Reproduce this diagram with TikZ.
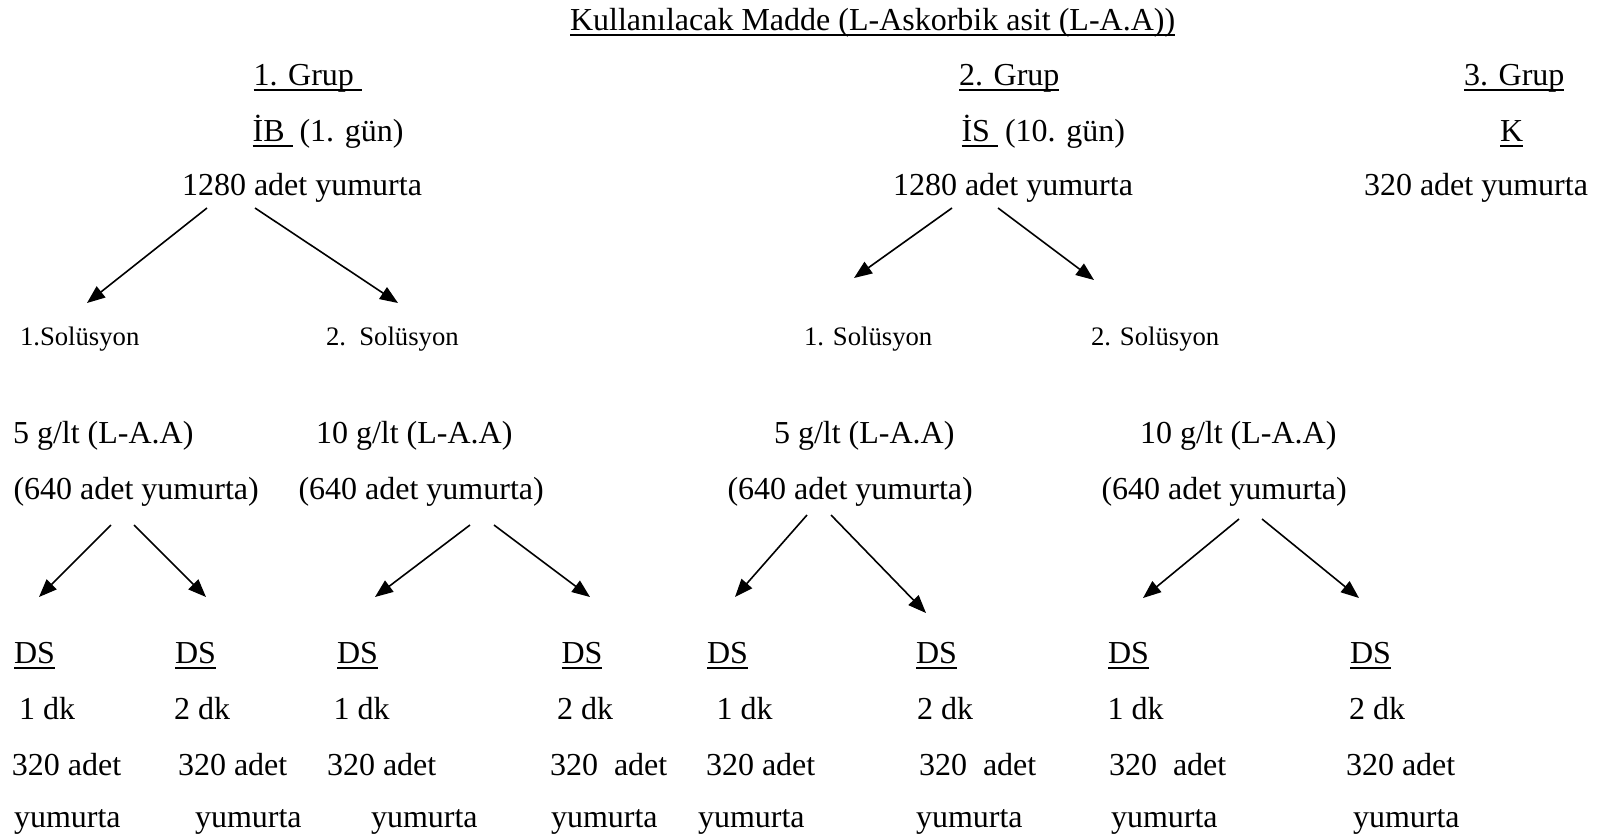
\documentclass[tikz,border=0pt]{standalone}
\usepackage{fontspec}
\setmainfont{Liberation Serif}
\usetikzlibrary{arrows.meta}
\tikzset{
  txt/.style={anchor=base west, inner sep=0pt, outer sep=0pt, font=\fontsize{32}{38}\selectfont},
  small/.style={anchor=base west, inner sep=0pt, outer sep=0pt, font=\fontsize{26.7}{32}\selectfont},
  ulline/.style={line width=1.6pt},
  arr/.style={line width=1.6pt, -{Triangle[length=18pt,width=14pt]}}
}
\begin{document}
\begin{tikzpicture}[x=1pt,y=-1pt]
\useasboundingbox (0,0) rectangle (1597,839);
% title
\node[txt] (title) at (570,30) {Kullanılacak Madde (L-Askorbik asit (L-A.A))};
% group heads
\node[txt] (g1) at (253.5,85) {1. Grup\kern8pt};
\node[txt] (ib) at (252.6,141) {İB\kern8pt};
\node[txt] (ibd) at (299.5,141) {(1. gün)};
\node[txt] (n1) at (182,195) {1280 adet yumurta};
\node[txt] (g2) at (959,85) {2. Grup};
\node[txt] (is) at (961.5,141) {İS\kern8pt};
\node[txt] (isd) at (1005,141) {(10. gün)};
\node[txt] (n2) at (893,195) {1280 adet yumurta};
\node[txt] (g3) at (1464,85) {3. Grup};
\node[txt] (k) at (1500,141) {K};
\node[txt] (n3) at (1364,195) {320 adet yumurta};
% solutions
\node[small] (s1) at (20,345) {1.Solüsyon};
\node[small] (s2) at (326,345) {2.\ \ Solüsyon};
\node[small] (s3) at (804,345) {1. Solüsyon};
\node[small] (s4) at (1091,345) {2. Solüsyon};
% concentrations
\node[txt] (c1) at (13,443) {5 g/lt (L-A.A)};
\node[txt] (c2) at (316,443) {10 g/lt (L-A.A)};
\node[txt] (c3) at (774,443) {5 g/lt (L-A.A)};
\node[txt] (c4) at (1140,443) {10 g/lt (L-A.A)};
\node[txt] (p1) at (13.5,499) {(640 adet yumurta)};
\node[txt] (p2) at (298.5,499) {(640 adet yumurta)};
\node[txt] (p3) at (727.5,499) {(640 adet yumurta)};
\node[txt] (p4) at (1101.5,499) {(640 adet yumurta)};
% DS row
\node[txt] (ds1) at (14,663) {DS};
\node[txt] (ds2) at (175,663) {DS};
\node[txt] (ds3) at (337,663) {DS};
\node[txt] (ds4) at (561.5,663) {DS};
\node[txt] (ds5) at (707,663) {DS};
\node[txt] (ds6) at (916,663) {DS};
\node[txt] (ds7) at (1108,663) {DS};
\node[txt] (ds8) at (1350,663) {DS};
% dk row
\node[txt] (t1) at (19,719) {1 dk};
\node[txt] (t2) at (174,719) {2 dk};
\node[txt] (t3) at (333.5,719) {1 dk};
\node[txt] (t4) at (557,719) {2 dk};
\node[txt] (t5) at (716.5,719) {1 dk};
\node[txt] (t6) at (917,719) {2 dk};
\node[txt] (t7) at (1107.5,719) {1 dk};
\node[txt] (t8) at (1349,719) {2 dk};
% 320 adet row
\node[txt] (a1) at (12,775) {320 adet};
\node[txt] (a2) at (178,775) {320 adet};
\node[txt] (a3) at (327,775) {320 adet};
\node[txt] (a4) at (550,775) {320\ \ adet};
\node[txt] (a5) at (706,775) {320 adet};
\node[txt] (a6) at (919,775) {320\ \ adet};
\node[txt] (a7) at (1109,775) {320\ \ adet};
\node[txt] (a8) at (1346,775) {320 adet};
% yumurta row
\node[txt] (y1) at (14,827) {yumurta};
\node[txt] (y2) at (195,827) {yumurta};
\node[txt] (y3) at (371,827) {yumurta};
\node[txt] (y4) at (551,827) {yumurta};
\node[txt] (y5) at (698,827) {yumurta};
\node[txt] (y6) at (916,827) {yumurta};
\node[txt] (y7) at (1111,827) {yumurta};
\node[txt] (y8) at (1353,827) {yumurta};
% underlines
\foreach \n in {title,g1,ib,g2,is,g3,k,ds1,ds2,ds3,ds4,ds5,ds6,ds7,ds8}
  \draw[ulline] ([yshift=-5pt]\n.base west) -- ([yshift=-5pt]\n.base east);
% arrow end points
\coordinate (u1s) at (207,208);  \coordinate (u1e) at (87,303);
\coordinate (u2s) at (255,208);  \coordinate (u2e) at (398,303);
\coordinate (u3s) at (952,208);  \coordinate (u3e) at (854,278);
\coordinate (u4s) at (998,208);  \coordinate (u4e) at (1094,280);
\coordinate (v1s) at (111,525);  \coordinate (v1e) at (39,597);
\coordinate (v2s) at (134,525);  \coordinate (v2e) at (206,597);
\coordinate (v3s) at (470,525);  \coordinate (v3e) at (375,597);
\coordinate (v4s) at (494,525);  \coordinate (v4e) at (590,597);
\coordinate (v5s) at (807,515);  \coordinate (v5e) at (735,597);
\coordinate (v6s) at (831,515);  \coordinate (v6e) at (926,613);
\coordinate (v7s) at (1239,519); \coordinate (v7e) at (1143,598);
\coordinate (v8s) at (1262,519); \coordinate (v8e) at (1359,598);
\foreach \a in {u1,u2,u3,u4,v1,v2,v3,v4,v5,v6,v7,v8}
  \draw[arr] (\a s) -- (\a e);
\end{tikzpicture}
\end{document}
